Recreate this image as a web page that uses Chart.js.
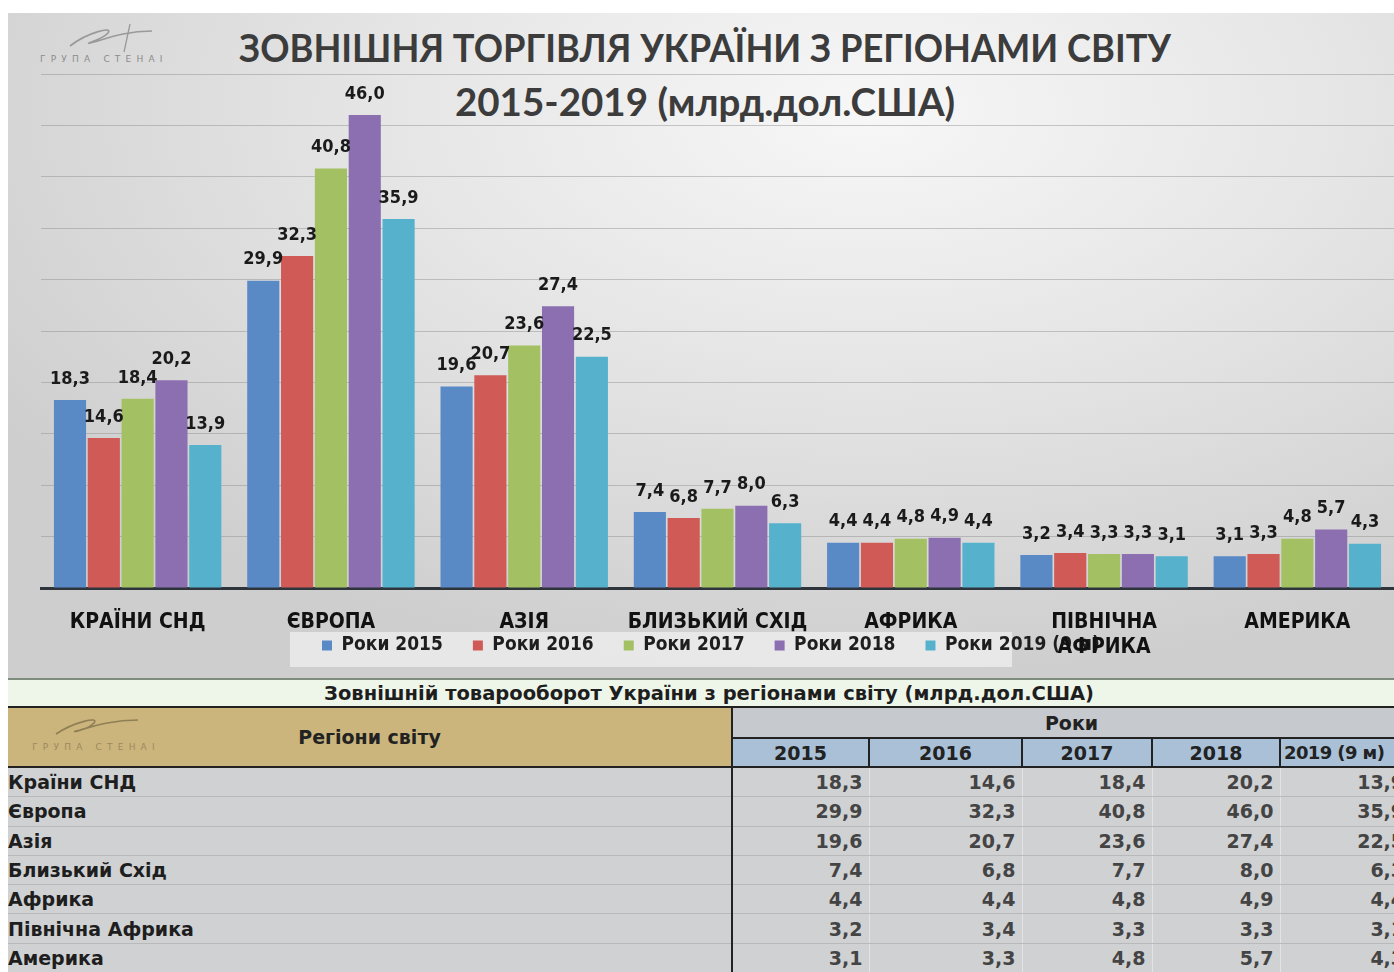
<!DOCTYPE html>
<html lang="uk">
<head>
<meta charset="utf-8">
<title>Зовнішня торгівля України з регіонами світу</title>
<script src="https://cdn.jsdelivr.net/npm/chart.js"></script>
<style>
    body { margin: 0; width: 1394px; height: 972px; overflow: hidden; position: relative; background: #fff; font-family: "DejaVu Sans", sans-serif; }
    .slide { position: absolute; left: 8px; top: 13px; width: 1386px; height: 665px;
        background: radial-gradient(ellipse 75% 85% at 62% 15%, #f7f7f7 0%, #e6e6e6 45%, #cecece 100%);
        border-bottom: 2px solid #7d8c7d; }
    #chartBox { position: absolute; left: 0; top: 0; width: 1394px; height: 680px; }
    .title { position: absolute; left: 705px; white-space: nowrap; transform-origin: 0 0;
        font-family: Lato, "Open Sans", sans-serif; font-weight: bold; color: #3c3c3c; font-size: 39px; line-height: 1; }
    .logo { position: absolute; color: #8c8c8c; font-size: 9px; letter-spacing: 5.2px; white-space: nowrap; font-family: "DejaVu Sans", sans-serif; font-weight: normal; }
    .logo svg { display: block; }
    table { position: absolute; left: 8px; top: 680px; border-collapse: collapse; table-layout: fixed; width: 1402px; font-weight: bold; font-size: 19px; }
    td { padding: 0; overflow: hidden; white-space: nowrap; }
    .cap { height: 26px; background: #eef6ea; text-align: center; border-bottom: 2px solid #222; color: #1e1e1e; font-size: 19.5px; }
    .reg { background: #cbb57c; text-align: center; position: relative; border-bottom: 2px solid #222; color: #222; }
    .yrs { height: 29px; background: #c6c9cd; text-align: center; border-left: 2px solid #222; color: #222; }
    .yr { height: 27px; background: #a9c0d7; text-align: center; border: 2px solid #222; color: #222; }
    .yr:nth-child(5) { text-align: left; padding-left: 3px; font-size: 18px; letter-spacing: -0.6px; }
    .row td { height: 28.3px; background: #d0d1d3; border-bottom: 1px solid #b9b9b9; color: #1e1e1e; }
    .row td.v { text-align: right; padding-right: 6px; color: #444; border-left: 1px solid #e4e4e4; }
    .row td.v:nth-child(2) { border-left: 2px solid #222; }
</style>
</head>
<body>
<div class="slide"></div>
<div class="logo" style="left:40px; top:22px;">
    <svg width="140" height="32" viewBox="0 0 140 32">
        <path d="M30 24 C 48 10, 74 4, 68 11 C 62 18, 38 24, 54 20 C 68 16, 86 9, 112 9" fill="none" stroke="#9a9a9a" stroke-width="1.6"/>
        <path d="M90 2 L 84 30" fill="none" stroke="#9a9a9a" stroke-width="1.3"/>
    </svg>
    ГРУПА СТЕНАІ
</div>
<div class="title" data-w="932" style="top:28px;">ЗОВНІШНЯ ТОРГІВЛЯ УКРАЇНИ З РЕГІОНАМИ СВІТУ</div>
<div class="title" data-w="500" style="top:82px;">2015-2019 (млрд.дол.США)</div>
<div id="chartBox"><canvas id="tradeChart" width="1394" height="680"></canvas></div>

<table id="tradeTable">
    <colgroup>
        <col style="width:724px"><col style="width:137px"><col style="width:153px"><col style="width:130px"><col style="width:128px"><col style="width:130px">
    </colgroup>
    <thead>
        <tr><td class="cap" colspan="6">Зовнішній товарооборот України з регіонами світу (млрд.дол.США)</td></tr>
        <tr>
            <td class="reg" rowspan="2">
                <div class="logo" style="left:18px; top:4px; color:#9c8a5c;">
                    <svg width="140" height="30" viewBox="0 0 140 30">
                        <path d="M30 22 C 48 10, 74 4, 68 11 C 62 18, 38 22, 54 18 C 68 14, 86 8, 112 8" fill="none" stroke="#8f7f55" stroke-width="1.6"/>
                    </svg>
                    ГРУПА СТЕНАІ
                </div>
                Регіони світу
            </td>
            <td class="yrs" colspan="5">Роки</td>
        </tr>
        <tr id="yearRow"></tr>
    </thead>
    <tbody id="tableBody"></tbody>
</table>

<script>
    // Data (млрд. дол. США)
    const regions = ['КРАЇНИ СНД', 'ЄВРОПА', 'АЗІЯ', 'БЛИЗЬКИЙ СХІД', 'АФРИКА', ['ПІВНІЧНА', 'АФРИКА'], 'АМЕРИКА'];
    const tableRegions = ['Країни СНД', 'Європа', 'Азія', 'Близький Схід', 'Африка', 'Північна Африка', 'Америка'];
    const seriesNames = ['Роки 2015', 'Роки 2016', 'Роки 2017', 'Роки 2018', 'Роки 2019 (9 м)'];
    const yearLabels = ['2015', '2016', '2017', '2018', '2019 (9 м)'];
    const y2015 = [18.3, 29.9, 19.6, 7.4, 4.4, 3.2, 3.1];
    const y2016 = [14.6, 32.3, 20.7, 6.8, 4.4, 3.4, 3.3];
    const y2017 = [18.4, 40.8, 23.6, 7.7, 4.8, 3.3, 4.8];
    const y2018 = [20.2, 46.0, 27.4, 8.0, 4.9, 3.3, 5.7];
    const y2019 = [13.9, 35.9, 22.5, 6.3, 4.4, 3.1, 4.3];
    const colors = ['#5a8ac6', '#cf5a56', '#a3c163', '#8c6fb0', '#56b2cc'];

    const series = [y2015, y2016, y2017, y2018, y2019];
    const fmt = v => v.toFixed(1).replace('.', ',');
    const font = '"DejaVu Sans Condensed", "DejaVu Sans", sans-serif';

    // squeeze the title lines to the slide's width
    document.querySelectorAll('.title').forEach(el => {
        const s = el.dataset.w / el.offsetWidth;
        el.style.transform = `scaleX(${s}) translateX(-50%)`;
    });

    // Table
    document.getElementById('yearRow').innerHTML = yearLabels.map(y => `<td class="yr">${y}</td>`).join('');
    const tbody = document.getElementById('tableBody');
    tableRegions.forEach((name, i) => {
        const tr = document.createElement('tr');
        tr.className = 'row';
        tr.innerHTML = `<td>${name}</td>` + series.map(s => `<td class="v">${fmt(s[i])}</td>`).join('');
        tbody.appendChild(tr);
    });

    // Value labels above the bars
    const valueLabels = {
        id: 'valueLabels',
        afterDatasetsDraw(chart) {
            const ctx = chart.ctx;
            ctx.save();
            ctx.font = 'bold 18px ' + font;
            ctx.fillStyle = '#1a1a1a';
            ctx.textAlign = 'center';
            ctx.textBaseline = 'bottom';
            chart.data.datasets.forEach((ds, i) => {
                chart.getDatasetMeta(i).data.forEach((bar, j) => {
                    ctx.fillText(fmt(ds.data[j]), bar.x, bar.y - 12);
                });
            });
            ctx.restore();
        }
    };

    // legend sits over the category names, with a pale backdrop
    const legendBox = {
        id: 'legendBox',
        afterLayout(chart) {
            const lg = chart.legend;
            const pad = lg.options.labels.padding;
            const firstBox = (lg.left + lg.right + pad - lg.lineWidths[0]) / 2;
            const shift = 322 - firstBox;
            lg.left += shift;
            lg.right += shift;
            // don't clip the two-line category name
            chart.scales.x.bottom = chart.height;
        },
        beforeDraw(chart) {
            const lg = chart.legend;
            const pad = lg.options.labels.padding;
            const firstBox = (lg.left + lg.right + pad - lg.lineWidths[0]) / 2;
            const ctx = chart.ctx;
            ctx.save();
            ctx.fillStyle = 'rgba(242,242,242,0.7)';
            ctx.fillRect(firstBox - 32, 632, 722, 35);
            ctx.restore();
        }
    };

    const ctx = document.getElementById('tradeChart').getContext('2d');
    new Chart(ctx, {
        type: 'bar',
        data: {
            labels: regions,
            datasets: series.map((s, i) => ({
                label: seriesNames[i],
                data: s,
                backgroundColor: colors[i],
                borderWidth: 0,
                barPercentage: 0.95,
                categoryPercentage: 0.875
            }))
        },
        options: {
            responsive: false,
            animation: false,
            layout: { padding: { left: 41, right: 0, top: 74, bottom: 15 } },
            plugins: {
                title: { display: false },
                tooltip: { enabled: false },
                legend: {
                    position: 'bottom',
                    labels: {
                        boxWidth: 10,
                        boxHeight: 10,
                        padding: 30,
                        color: '#1e1e1e',
                        font: { family: font, size: 19, weight: 'bold' }
                    }
                }
            },
            scales: {
                x: {
                    grid: { display: false, drawTicks: false },
                    border: { display: true, color: '#2e343c', width: 3 },
                    ticks: {
                        color: '#111',
                        padding: 22,
                        maxRotation: 0,
                        autoSkip: false,
                        font: { family: font, size: 21, weight: 'bold' }
                    },
                    afterFit(scale) { scale.height = 18; }
                },
                y: {
                    min: 0,
                    max: 50,
                    ticks: { display: false, stepSize: 5 },
                    border: { display: false },
                    grid: { color: 'rgba(140,140,140,0.45)', drawTicks: false }
                }
            }
        },
        plugins: [valueLabels, legendBox]
    });
</script>
</body>
</html>
